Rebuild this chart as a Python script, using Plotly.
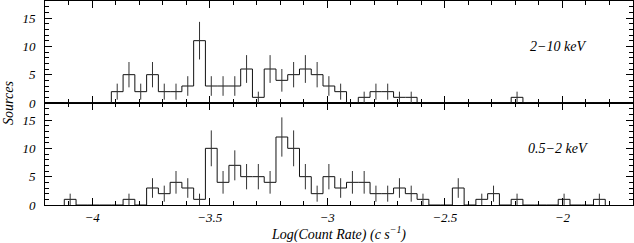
import numpy as np
import plotly.graph_objects as go

# Histogram binning (log count rate)
bin_start = -4.118
bin_width = 0.05

# Counts per bin, 2-10 keV (top panel)
counts_hard = [0, 0, 0, 0, 2, 5, 2, 5, 2, 2,
               3, 11, 3, 3, 3, 6, 1, 6, 4, 5,
               6, 5, 3, 2, 0, 1, 2, 2, 1, 1,
               0, 0, 0, 0, 0, 0, 0, 0, 1, 0,
               0, 0, 0, 0, 0, 0]
# Counts per bin, 0.5-2 keV (bottom panel)
counts_soft = [1, 0, 0, 0, 0, 1, 0, 3, 2, 4,
               3, 1, 10, 4, 7, 5, 5, 4, 12, 10,
               5, 2, 5, 3, 4, 4, 2, 2, 3, 2,
               1, 0, 0, 3, 0, 1, 2, 0, 1, 0,
               0, 0, 1, 0, 0, 1]

band_labels = ["2\u221210 keV", "0.5\u22122 keV"]
x_ticks = [-4, -3.5, -3, -2.5, -2]
x_ticktext = ["\u22124", "\u22123.5", "\u22123", "\u22122.5", "\u22122"]
y_ticks = [0, 5, 10, 15]

FONT = "Liberation Serif"

fig = go.Figure()


def add_hist(counts, xa, ya):
    n = len(counts)
    edges = bin_start + bin_width * np.arange(n + 1)
    centers = edges[:-1] + bin_width / 2
    cnt = np.array(counts, dtype=float)
    xs = np.concatenate([[edges[0]], edges])
    ys = np.concatenate([[0.0], cnt, [0.0]])
    fig.add_trace(go.Scatter(x=xs, y=ys, mode="lines", line=dict(shape="hv", color="#111", width=1),
                             xaxis=xa, yaxis=ya, showlegend=False, hoverinfo="skip"))
    m = cnt > 0
    fig.add_trace(go.Scatter(x=centers[m], y=cnt[m], mode="markers", marker=dict(size=1, color="rgba(0,0,0,0)"),
                             error_y=dict(type="data", array=np.sqrt(cnt[m]), width=0, thickness=1, color="#333"),
                             xaxis=xa, yaxis=ya, showlegend=False, hoverinfo="skip"))


add_hist(counts_hard, "x2", "y2")
add_hist(counts_soft, "x", "y")

tickfont = dict(family=FONT, size=13, color="black", style="italic")

xcommon = dict(range=[-4.2, -1.7], tickvals=x_ticks, ticktext=x_ticktext, ticks="inside", ticklen=7,
               tickcolor="black", tickwidth=1, showline=True, linecolor="black", linewidth=1,
               mirror="allticks", showgrid=False, zeroline=False,
               minor=dict(ticks="inside", dtick=0.1, tick0=0, ticklen=4, tickcolor="black", tickwidth=1, showgrid=False),
               tickfont=tickfont)
ycommon = dict(range=[0, 18], tickvals=y_ticks, ticks="inside", ticklen=7, tickcolor="black", tickwidth=1,
               showline=True, linecolor="black", linewidth=1, mirror="allticks", showgrid=False, zeroline=False,
               minor=dict(ticks="inside", dtick=1, tick0=0, ticklen=4, tickcolor="black", tickwidth=1, showgrid=False),
               tickfont=tickfont, ticklabelstandoff=6)

fig.update_layout(
    width=634, height=243,
    margin=dict(l=45, r=1, t=1, b=38),
    paper_bgcolor="white", plot_bgcolor="white",
    xaxis=dict(**xcommon, anchor="y", domain=[0, 1],
               title=dict(text="Log(Count Rate) (c s<sup>\u22121</sup>)", standoff=4,
                          font=dict(family=FONT, size=14, color="black", style="italic"))),
    yaxis=dict(**ycommon, anchor="x", domain=[0, 0.5]),
    xaxis2=dict(**xcommon, anchor="y2", domain=[0, 1], showticklabels=False),
    yaxis2=dict(**ycommon, anchor="x2", domain=[0.5, 1]),
)

fig.add_annotation(text=band_labels[0], x=-2.017, y=10, xref="x2", yref="y2", showarrow=False,
                   font=dict(family=FONT, size=14, color="black", style="italic"))
fig.add_annotation(text=band_labels[1], x=-2.017, y=10, xref="x", yref="y", showarrow=False,
                   font=dict(family=FONT, size=14, color="black", style="italic"))
fig.add_annotation(text="Sources", x=-0.063, y=0.5, xref="paper", yref="paper", textangle=-90,
                   showarrow=False, xanchor="center", yanchor="middle",
                   font=dict(family=FONT, size=14, color="black", style="italic"))

fig.write_html("out.html", config={"displayModeBar": False},
               post_script="document.body.style.margin='0';document.body.style.overflow='hidden';")
